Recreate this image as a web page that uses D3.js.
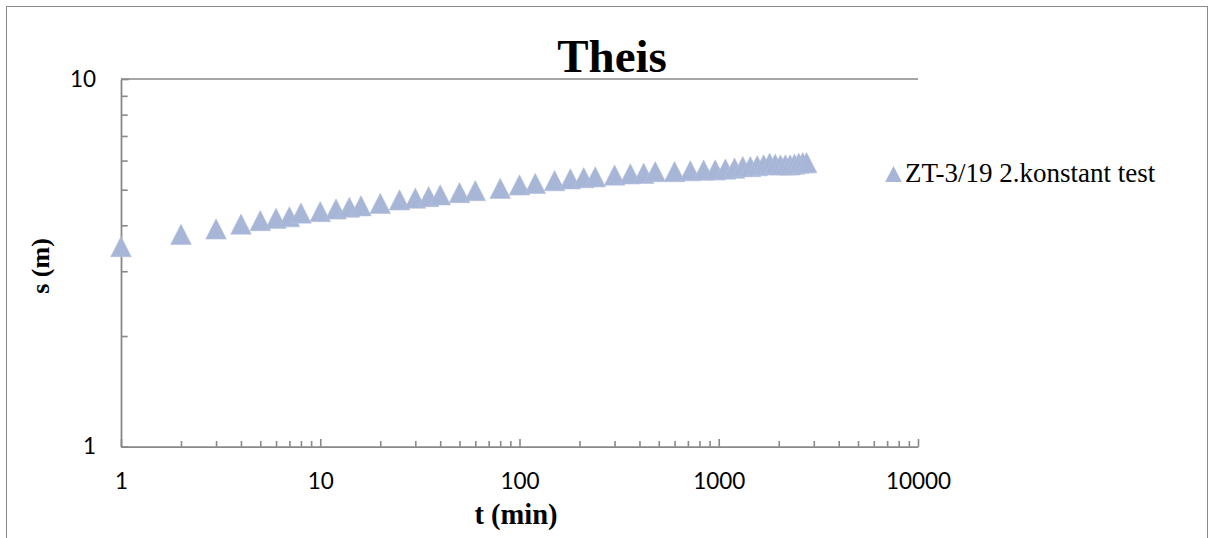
<!DOCTYPE html>
<html>
<head>
<meta charset="utf-8">
<script src="https://cdn.jsdelivr.net/npm/d3@7/dist/d3.min.js"></script>
<style>
  html, body { margin: 0; padding: 0; background: #fff; }
  svg { display: block; }
</style>
</head>
<body>
<svg id="chart" width="1212" height="538"></svg>
<script>
// ---- data ----
const times = [1,2,3,4,5,6,7,8,10,12,14,16,20,25,30,35,40,50,60,80,100,120,150,180,210,240,
  300,360,420,480,600,720,840,960,1080,1200,1320,1440,1560,1680,1800,1920,2040,2160,2280,2400,2520,2640,2760];
const drawdown = [3.50,3.78,3.91,4.03,4.12,4.18,4.22,4.32,4.36,4.43,4.48,4.52,4.59,4.69,4.74,4.79,4.84,4.91,4.97,
  5.04,5.15,5.20,5.29,5.35,5.39,5.42,5.48,5.52,5.54,5.60,5.60,5.63,5.65,5.66,5.69,5.72,5.78,5.78,5.81,5.84,
  5.90,5.87,5.84,5.84,5.84,5.87,5.90,5.92,5.92];
const xMajorTicks = [1,10,100,1000,10000];
const xTickLabels = ["1","10","100","1000","10000"];
const yMajorTicks = [1,10];
const yTickLabels = ["1","10"];
const seriesName = "ZT-3/19 2.konstant test";
const chartTitle = "Theis";
const xTitle = "t (min)";
const yTitle = "s (m)";

// ---- layout ----
const svg = d3.select("#chart");
const axisColor = "#898989";
const markerColor = "#A7B6D7";

const x = d3.scaleLog().domain([1, 10000]).range([121, 918]);
const y = d3.scaleLog().domain([1, 10]).range([446.7, 79]);

// outer chart frame
svg.append("rect").attr("x", 6.5).attr("y", 6.5).attr("width", 1201).attr("height", 560)
  .attr("fill", "none").attr("stroke", "#8a8a8a").attr("stroke-width", 1);

// minor tick values
const xMinor = [];
for (let d = 1; d < 10000; d *= 10) for (let k = 2; k <= 9; k++) xMinor.push(d * k);
const yMinor = [2,3,4,5,6,7,8,9];

// gridline at major y = 10
svg.append("g").selectAll("line").data([10]).join("line")
  .attr("x1", x.range()[0]).attr("x2", x.range()[1])
  .attr("y1", d => y(d)).attr("y2", d => y(d))
  .attr("stroke", axisColor).attr("stroke-width", 1.6);

function styleAxis(g) {
  g.selectAll("path.domain").attr("stroke", axisColor).attr("stroke-width", 1.8);
  g.selectAll(".tick line").attr("stroke", axisColor).attr("stroke-width", 1.6);
  g.selectAll(".tick text").attr("fill", "#000").attr("font-family", "Lato, 'Open Sans', sans-serif")
    .attr("font-size", 22.5);
}

// x axis minor
svg.append("g").attr("transform", `translate(0,${y(1)})`)
  .call(d3.axisBottom(x).tickValues(xMinor).tickSize(-5.7).tickFormat(""))
  .call(g => g.select(".domain").remove())
  .call(styleAxis);
// x axis major
svg.append("g").attr("transform", `translate(0,${y(1)})`)
  .call(d3.axisBottom(x).tickValues(xMajorTicks).tickSizeInner(-7.7).tickSizeOuter(0).tickPadding(26)
    .tickFormat((d, i) => xTickLabels[i]))
  .call(styleAxis);

// y axis minor
svg.append("g").attr("transform", `translate(${x(1)},0)`)
  .call(d3.axisLeft(y).tickValues(yMinor).tickSize(-6.7).tickFormat(""))
  .call(g => g.select(".domain").remove())
  .call(styleAxis);
// y axis major
svg.append("g").attr("transform", `translate(${x(1)},0)`)
  .call(d3.axisLeft(y).tickValues(yMajorTicks).tickSizeInner(-7.7).tickSizeOuter(0).tickPadding(25)
    .tickFormat((d, i) => yTickLabels[i]))
  .call(styleAxis);

// triangle marker centered on its bounding box
function tri(w, h) { return `M0,${-h/2}L${w/2},${h/2}L${-w/2},${h/2}Z`; }

const pts = times.map((t, i) => ({ t, s: drawdown[i] }));
svg.append("g").selectAll("path").data(pts).join("path")
  .attr("d", tri(20.6, 20.2))
  .attr("transform", d => `translate(${x(d.t)},${y(d.s)})`)
  .attr("fill", markerColor).attr("stroke", "#B3C0DD").attr("stroke-width", 0.6);

// title
svg.append("text").attr("x", 612).attr("y", 72).attr("text-anchor", "middle")
  .attr("font-family", "'Liberation Serif', 'Times New Roman', serif").attr("font-weight", "bold")
  .attr("font-size", 47).text(chartTitle);

// axis titles
svg.append("text").attr("x", 516).attr("y", 524).attr("text-anchor", "middle")
  .attr("font-family", "'Liberation Serif', 'Times New Roman', serif").attr("font-weight", "bold")
  .attr("font-size", 28.5).text(xTitle);
svg.append("text").attr("transform", "translate(49,266) rotate(-90)").attr("text-anchor", "middle")
  .attr("font-family", "'Liberation Serif', 'Times New Roman', serif").attr("font-weight", "bold")
  .attr("font-size", 26).text(yTitle);

// legend
const lg = svg.append("g").attr("transform", "translate(893.5,174)");
lg.append("path").attr("d", tri(16.7, 16)).attr("fill", markerColor);
lg.append("text").attr("x", 11.5).attr("y", 7.5)
  .attr("font-family", "'Liberation Serif', 'Times New Roman', serif")
  .attr("font-size", 27).attr("fill", "#000").text(seriesName);
</script>
</body>
</html>
